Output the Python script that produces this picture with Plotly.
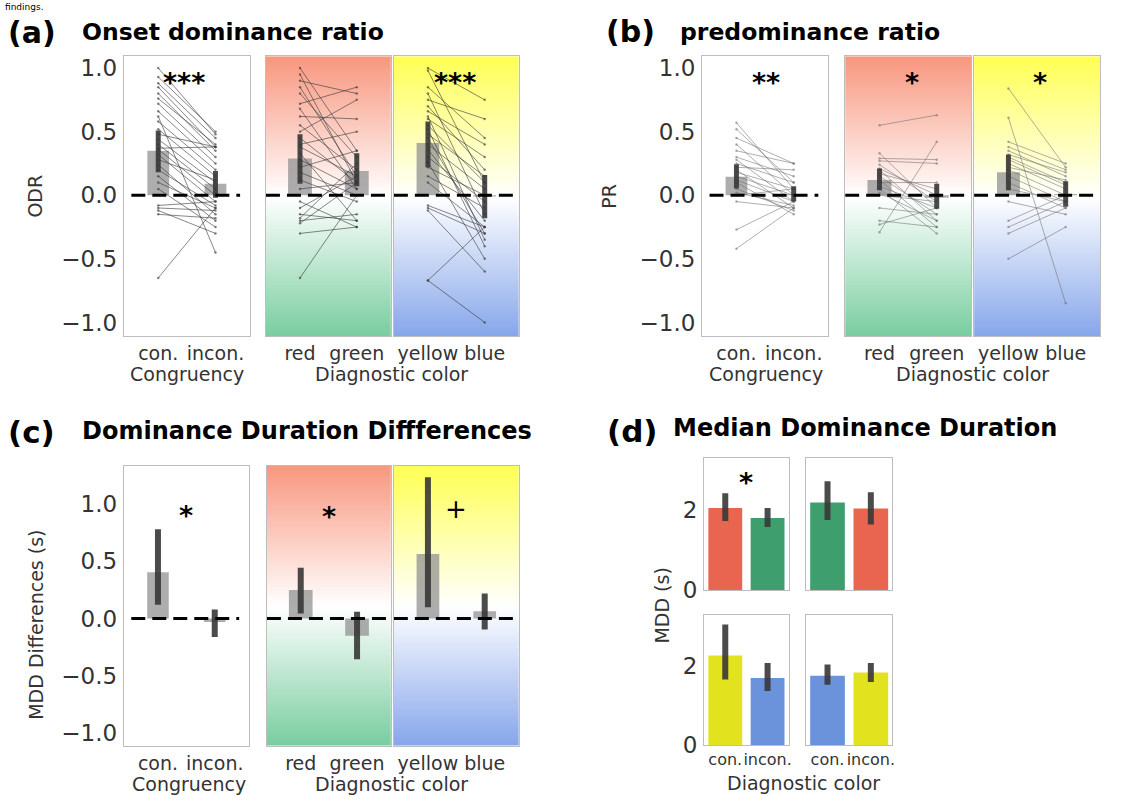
import plotly.graph_objects as go
import numpy as np

W, H = 1135, 807

# ---------------- data ----------------
cong_labels = ["con.", "incon."]
rg_labels = ["red", "green"]
yb_labels = ["yellow", "blue"]
ratio_tickvals = [-1.0, -0.5, 0.0, 0.5, 1.0]
ratio_ticktext = ["\u22121.0", "\u22120.5", "0.0", "0.5", "1.0"]
mdd_tickvals = [0, 2]
mdd_ticktext = ["0", "2"]

# (a) Onset dominance ratio: means and 95% CI
odr_cong_mean = [0.35, 0.09]
odr_cong_lo = [0.18, -0.02]
odr_cong_hi = [0.51, 0.19]
odr_rg_mean = [0.29, 0.19]
odr_rg_lo = [0.09, 0.07]
odr_rg_hi = [0.48, 0.33]
odr_yb_mean = [0.41, -0.01]
odr_yb_lo = [0.22, -0.18]
odr_yb_hi = [0.58, 0.16]
# (a) per-subject values
odr_con = [1.00, 0.93, 0.88, 0.85, 0.80, 0.76, 0.72, 0.66, 0.62, 0.58, 0.52, 0.48, 0.44, 0.40,
           0.37, 0.36, 0.32, 0.28, 0.24, 0.20, 0.15, 0.10, 0.05, -0.08, -0.10, -0.12, -0.15, -0.65]
odr_incon = [0.48, 0.50, 0.45, 0.38, 0.35, 0.40, 0.30, 0.25, -0.45, 0.20, 0.15, 0.38, 0.10, 0.05,
             0.38, 0.00, -0.05, 0.12, -0.15, -0.08, -0.20, -0.10, -0.25, -0.05, -0.12, -0.30, -0.18, -0.10]
odr_red = [1.00, 0.95, 0.90, 0.85, 0.80, 0.72, 0.68, 0.62, 0.55, 0.50, 0.45, 0.40, 0.38, 0.33,
           0.28, 0.22, 0.18, 0.12, 0.05, -0.05, -0.10, -0.15, -0.18, -0.20, -0.22, -0.30, -0.65]
odr_green = [0.35, 0.10, 0.80, 0.15, 0.30, 0.85, 0.05, 0.60, 0.20, 0.75, 0.10, 0.50, 0.15, -0.20,
             0.05, 0.35, 0.00, -0.05, 0.10, -0.25, 0.15, -0.20, 0.25, -0.15, 0.10, -0.25, 0.00]
odr_yellow = [1.00, 0.98, 0.85, 0.80, 0.75, 0.70, 0.66, 0.62, 0.60, 0.55, 0.52, 0.48, 0.45, 0.40,
              0.36, 0.30, 0.26, 0.22, 0.15, 0.10, -0.08, -0.10, -0.12, -0.67, -0.67]
odr_blue = [0.75, 0.10, 0.45, -0.15, 0.60, 0.20, 0.40, -0.35, 0.30, 0.10, -0.40, 0.15, -0.30, 0.05,
            -0.20, -0.05, -0.50, 0.00, -0.10, -0.25, -0.25, -0.30, -0.60, -0.25, -1.00]

# (b) predominance ratio
pr_cong_mean = [0.145, 0.01]
pr_cong_lo = [0.054, -0.05]
pr_cong_hi = [0.243, 0.07]
pr_rg_mean = [0.12, -0.02]
pr_rg_lo = [0.04, -0.106]
pr_rg_hi = [0.21, 0.09]
pr_yb_mean = [0.18, 0.01]
pr_yb_lo = [0.04, -0.09]
pr_yb_hi = [0.32, 0.11]
pr_con = [0.57, 0.52, 0.45, 0.40, 0.35, 0.30, 0.28, 0.25, 0.22, 0.20, 0.18, 0.15, 0.12, 0.10,
          0.05, 0.02, 0.00, -0.05, -0.27, -0.42]
pr_incon = [0.05, 0.10, 0.25, 0.00, 0.25, 0.15, -0.05, 0.10, 0.20, -0.10, 0.05, 0.00, -0.05, -0.15,
            -0.12, -0.08, 0.05, -0.10, -0.05, -0.10]
pr_red = [0.55, 0.33, 0.29, 0.27, 0.24, 0.21, 0.20, 0.17, 0.15, 0.12, 0.10, 0.07, 0.05, 0.02,
          0.00, -0.10, -0.20, -0.23, -0.29]
pr_green = [0.63, -0.10, 0.28, 0.25, -0.05, 0.00, -0.20, 0.05, -0.15, -0.25, 0.10, -0.10, -0.30, -0.20,
            -0.05, -0.15, -0.25, -0.10, 0.42]
pr_yellow = [0.84, 0.61, 0.42, 0.38, 0.35, 0.32, 0.30, 0.28, 0.25, 0.22, 0.20, 0.15, 0.10, 0.05,
             -0.05, -0.20, -0.25, -0.30, -0.50]
pr_blue = [0.22, -0.85, 0.25, 0.20, 0.15, 0.18, 0.10, 0.08, 0.05, 0.12, 0.00, -0.05, -0.10, -0.05,
           -0.15, 0.00, -0.05, -0.10, -0.25]

# (c) Dominance duration differences (s)
mddd_cong_mean = [0.405, -0.03]
mddd_cong_lo = [0.12, -0.16]
mddd_cong_hi = [0.78, 0.08]
mddd_rg_mean = [0.25, -0.15]
mddd_rg_lo = [0.045, -0.355]
mddd_rg_hi = [0.445, 0.06]
mddd_yb_mean = [0.565, 0.065]
mddd_yb_lo = [0.10, -0.095]
mddd_yb_hi = [1.235, 0.22]

# (d) Median dominance duration (s): [con., incon.]
mdd_tl_mean = [2.05, 1.80]
mdd_tl_lo = [1.73, 1.58]
mdd_tl_hi = [2.42, 2.05]
mdd_tr_mean = [2.19, 2.04]
mdd_tr_lo = [1.75, 1.64]
mdd_tr_hi = [2.72, 2.45]
mdd_bl_mean = [2.27, 1.70]
mdd_bl_lo = [1.66, 1.37]
mdd_bl_hi = [3.06, 2.08]
mdd_br_mean = [1.76, 1.84]
mdd_br_lo = [1.53, 1.60]
mdd_br_hi = [2.04, 2.08]

# ---------------- styling ----------------
RED, GREEN, YELLOW, BLUE = "#E9654F", "#3F9E6D", "#E2E21E", "#6A93DC"
BG_RG = [[0, "#78CD9F"], [0.5, "#FFFFFF"], [1, "#F8977F"]]
BG_YB = [[0, "#86A6EA"], [0.5, "#FFFFFF"], [1, "#FFFF55"]]
FONT = "DejaVu Sans"
TICK_COLOR = "#333333"
FRAME = "#BDBDBD"
BAR_GRAY = "rgba(145,145,145,0.75)"
ERR_COLOR = "rgba(55,55,55,0.9)"

XR = [-0.6, 1.6]
YR_AB = [-1.11, 1.093]
YR_C = [-1.112, 1.336]
YR_D = [0, 3.31]

SX, SY = 1.01, 1.004


def px_x(p):
    return p * SX / W


def px_y(p):
    return 1 - p * SY / H


fig = go.Figure()
layout = {}
shapes = []
annotations = []
subs = {}


def axis(i, xb, yb, xr, yr, xtext, ytv, ytt, yshow, xfont=19, yfont=23):
    s = "" if i == 1 else str(i)
    layout["xaxis" + s] = dict(
        domain=[px_x(xb[0]), px_x(xb[1])], range=xr, anchor="y" + s,
        tickvals=[0, 1], ticktext=xtext if xtext else ["", ""], showticklabels=bool(xtext),
        showgrid=False, zeroline=False, showline=True, mirror=True, tickangle=0,
        linecolor=FRAME, linewidth=1.2, ticks="", ticklabelstandoff=0,
        tickfont=dict(family=FONT, size=xfont, color=TICK_COLOR), fixedrange=True)
    layout["yaxis" + s] = dict(
        domain=[px_y(yb[1]), px_y(yb[0])], range=yr, anchor="x" + s,
        tickvals=ytv, ticktext=ytt, showticklabels=yshow,
        showgrid=False, zeroline=False, showline=True, mirror=True,
        linecolor=FRAME, linewidth=1.2, ticks="", ticklabelstandoff=1,
        tickfont=dict(family=FONT, size=yfont, color=TICK_COLOR), fixedrange=True)
    subs[i] = ("x" + s, "y" + s, yr)


# (a)
axis(1, (123, 248), (56, 340), XR, YR_AB, cong_labels, ratio_tickvals, ratio_ticktext, True)
axis(2, (264, 388), (56, 340), XR, YR_AB, rg_labels, ratio_tickvals, ratio_ticktext, False)
axis(3, (391, 515), (56, 340), XR, YR_AB, yb_labels, ratio_tickvals, ratio_ticktext, False)
# (b)
axis(4, (697, 822), (56, 340), XR, YR_AB, cong_labels, ratio_tickvals, ratio_ticktext, True)
axis(5, (839, 964), (56, 340), XR, YR_AB, rg_labels, ratio_tickvals, ratio_ticktext, False)
axis(6, (967, 1092), (56, 340), XR, YR_AB, yb_labels, ratio_tickvals, ratio_ticktext, False)
# (c)
axis(7, (123, 247), (471, 755), XR, YR_C, cong_labels, ratio_tickvals, ratio_ticktext, True)
axis(8, (265, 388), (471, 755), XR, YR_C, rg_labels, ratio_tickvals, ratio_ticktext, False)
axis(9, (391, 515), (471, 755), XR, YR_C, yb_labels, ratio_tickvals, ratio_ticktext, False)
# (d)
axis(10, (699, 783), (463, 597), [-0.5, 1.5], YR_D, None, mdd_tickvals, mdd_ticktext, True)
axis(11, (800, 886), (463, 597), [-0.5, 1.5], YR_D, None, mdd_tickvals, mdd_ticktext, False)
axis(12, (699, 783), (622, 754), [-0.5, 1.5], YR_D, cong_labels, mdd_tickvals, mdd_ticktext, True, xfont=16)
axis(13, (800, 886), (622, 754), [-0.5, 1.5], YR_D, cong_labels, mdd_tickvals, mdd_ticktext, False, xfont=16)


def bg(i, scale):
    xa, ya, yr = subs[i]
    fig.add_trace(go.Heatmap(
        x=[-3, 3], y=[yr[0], (yr[0] + yr[1]) / 2, yr[1]],
        z=[[0, 0], [0.5, 0.5], [1, 1]], zmin=0, zmax=1, colorscale=scale,
        zsmooth="best", showscale=False, hoverinfo="skip", xaxis=xa, yaxis=ya))


def bars(i, vals, colors, width):
    xa, ya, _ = subs[i]
    fig.add_trace(go.Bar(x=[0, 1], y=vals, width=width, marker=dict(color=colors, line=dict(width=0)),
                         xaxis=xa, yaxis=ya, hoverinfo="skip"))


def subject_lines(i, v0, v1, color):
    xa, ya, _ = subs[i]
    xs, ys = [], []
    for a, b in zip(v0, v1):
        xs += [0, 1, None]
        ys += [a, b, None]
    fig.add_trace(go.Scatter(x=xs, y=ys, mode="lines+markers", line=dict(color=color, width=1),
                             marker=dict(size=2.5, color=color), xaxis=xa, yaxis=ya, hoverinfo="skip"))


def errbars(i, lo, hi, width=5):
    xa, ya, _ = subs[i]
    xs, ys = [], []
    for k in range(len(lo)):
        xs += [k, k, None]
        ys += [lo[k], hi[k], None]
    fig.add_trace(go.Scatter(x=xs, y=ys, mode="lines", line=dict(color=ERR_COLOR, width=width),
                             xaxis=xa, yaxis=ya, hoverinfo="skip"))


def zero_dash(i, x0, x1):
    xa, ya, _ = subs[i]
    shapes.append(dict(type="line", xref=xa, yref=ya, x0=x0, x1=x1, y0=0, y1=0, layer="above",
                       line=dict(color="black", width=3, dash="14px,7px")))


# backgrounds first
for i in (2, 5, 8):
    bg(i, BG_RG)
for i in (3, 6, 9):
    bg(i, BG_YB)

A_LINE = "rgba(55,55,55,0.6)"
B_LINE = "rgba(110,110,110,0.55)"

# (a)
bars(1, odr_cong_mean, BAR_GRAY, 0.38)
bars(2, odr_rg_mean, BAR_GRAY, 0.42)
bars(3, odr_yb_mean, BAR_GRAY, 0.40)
subject_lines(1, odr_con, odr_incon, A_LINE)
subject_lines(2, odr_red, odr_green, A_LINE)
subject_lines(3, odr_yellow, odr_blue, A_LINE)
errbars(1, odr_cong_lo, odr_cong_hi)
errbars(2, odr_rg_lo, odr_rg_hi)
errbars(3, odr_yb_lo, odr_yb_hi)
# (b)
bars(4, pr_cong_mean, BAR_GRAY, 0.38)
bars(5, pr_rg_mean, BAR_GRAY, 0.42)
bars(6, pr_yb_mean, BAR_GRAY, 0.40)
subject_lines(4, pr_con, pr_incon, B_LINE)
subject_lines(5, pr_red, pr_green, B_LINE)
subject_lines(6, pr_yellow, pr_blue, B_LINE)
errbars(4, pr_cong_lo, pr_cong_hi)
errbars(5, pr_rg_lo, pr_rg_hi)
errbars(6, pr_yb_lo, pr_yb_hi)
# (c)
bars(7, mddd_cong_mean, BAR_GRAY, 0.38)
bars(8, mddd_rg_mean, BAR_GRAY, 0.42)
bars(9, mddd_yb_mean, BAR_GRAY, 0.40)
errbars(7, mddd_cong_lo, mddd_cong_hi, 6)
errbars(8, mddd_rg_lo, mddd_rg_hi, 6)
errbars(9, mddd_yb_lo, mddd_yb_hi, 6)
# (d)
bars(10, mdd_tl_mean, [RED, GREEN], 0.8)
bars(11, mdd_tr_mean, [GREEN, RED], 0.8)
bars(12, mdd_bl_mean, [YELLOW, BLUE], 0.8)
bars(13, mdd_br_mean, [BLUE, YELLOW], 0.8)
errbars(10, mdd_tl_lo, mdd_tl_hi, 6)
errbars(11, mdd_tr_lo, mdd_tr_hi, 6)
errbars(12, mdd_bl_lo, mdd_bl_hi, 6)
errbars(13, mdd_br_lo, mdd_br_hi, 6)

# dashed zero lines
for i in (1, 4, 7):
    zero_dash(i, -0.47, 1.43)
for i in (2, 3, 5, 6, 8, 9):
    zero_dash(i, XR[0], XR[1])


def text(px, py, s, size, bold=False, color="black", anchor="center", angle=0):
    annotations.append(dict(
        x=px_x(px), y=px_y(py), xref="paper", yref="paper", text=("<b>%s</b>" % s) if bold else s,
        showarrow=False, xanchor=anchor, yanchor="middle", textangle=angle,
        font=dict(family=FONT, size=size, color=color)))


# caption fragment at top (kept small so it stays inside the page)
annotations.append(dict(x=px_x(4), y=1, xref="paper", yref="paper", text="findings.",
                        showarrow=False, xanchor="left", yanchor="top", borderpad=0,
                        font=dict(family=FONT, size=9, color="black")))

# panel titles
text(6, 32, "(a)", 30, True, anchor="left")
text(79, 31, "Onset dominance ratio", 23.5, True, anchor="left")
text(600, 31, "(b)", 30, True, anchor="left")
text(673, 31, "predominance ratio", 23.5, True, anchor="left")
text(6, 437, "(c)", 31, True, anchor="left")
text(79, 436, "Dominance Duration Diffferences", 24, True, anchor="left")
text(601, 436, "(d)", 31, True, anchor="left")
text(666, 433, "Median Dominance Duration", 24, True, anchor="left")

# axis titles
text(35, 198, "ODR", 19, color=TICK_COLOR, angle=-90)
text(605, 198, "PR", 19, color=TICK_COLOR, angle=-90)
text(35, 632, "MDD Differences (s)", 19, color=TICK_COLOR, angle=-90)
text(657, 613, "MDD (s)", 19, color=TICK_COLOR, angle=-90)
text(186, 378, "Congruency", 19, color=TICK_COLOR)
text(389, 378, "Diagnostic color", 19, color=TICK_COLOR)
text(760, 378, "Congruency", 19, color=TICK_COLOR)
text(965, 378, "Diagnostic color", 19, color=TICK_COLOR)
text(188, 794, "Congruency", 19, color=TICK_COLOR)
text(389, 794, "Diagnostic color", 19, color=TICK_COLOR)
text(798, 793, "Diagnostic color", 19, color=TICK_COLOR)

# significance marks
text(183, 83, "***", 27, True)
text(452, 83, "***", 27, True)
text(760, 83, "**", 27, True)
text(905, 83, "*", 27, True)
text(1032, 83, "*", 27, True)
text(185, 521, "*", 27, True)
text(327, 523, "*", 27, True)
text(453, 515, "+", 26)
text(741, 488, "*", 27, True)

layout.update(dict(
    width=W, height=H, margin=dict(l=0, r=0, t=0, b=0),
    paper_bgcolor="white", plot_bgcolor="white", showlegend=False,
    barmode="overlay", shapes=shapes, annotations=annotations,
    font=dict(family=FONT, color=TICK_COLOR)))
fig.update_layout(**layout)
fig.write_html("out.html")
